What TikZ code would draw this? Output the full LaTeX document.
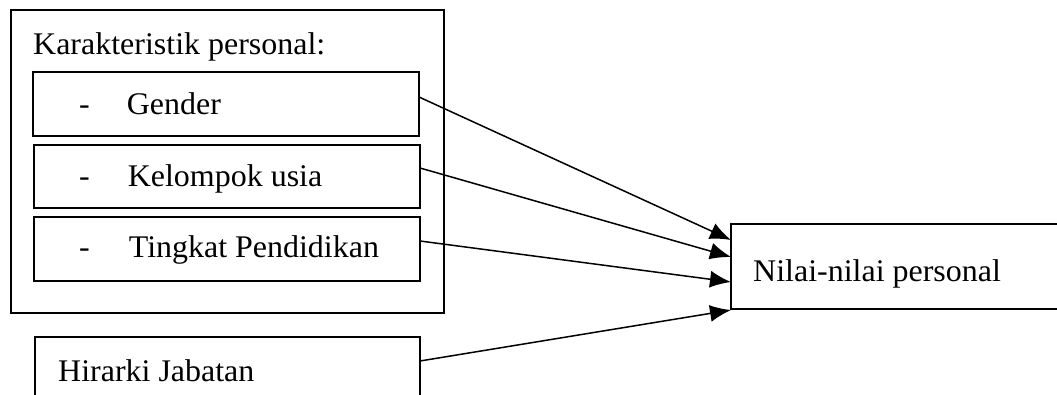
\documentclass[tikz,border=0pt]{standalone}
\usepackage{fontspec}
\setmainfont{Liberation Serif}[FakeStretch=1.015]
\usetikzlibrary{arrows.meta}
\begin{document}
\begin{tikzpicture}[x=1pt,y=-1pt,
  box/.style={draw,line width=1.7pt,outer sep=0pt,inner sep=0pt,anchor=north west},
  lbl/.style={anchor=base west,inner sep=0pt,font=\fontsize{31.5}{36}\selectfont},
  arr/.style={line width=1.5pt,-{Latex[length=21pt,width=17pt]}}]
\useasboundingbox (0,0) rectangle (1057,395);
\clip (0,0) rectangle (1057,395);
\node[box,minimum width=433pt,minimum height=303pt] (outer) at (11,10) {};
\node[box,minimum width=386pt,minimum height=64pt] (gender) at (33,72) {};
\node[box,minimum width=386pt,minimum height=63pt] (kelompok) at (34,145) {};
\node[box,minimum width=386pt,minimum height=64pt] (tingkat) at (34,217) {};
\node[box,minimum width=385pt,minimum height=90pt] (hirarki) at (35,337) {};
\node[box,minimum width=400pt,minimum height=85pt] (nilai) at (731,224) {};
\node[lbl] (tkarakter) at (33,54.5) {Karakteristik personal:};
\node[lbl] (tgender) at (79,114.5) {-\hspace{37pt}Gender};
\node[lbl] (tkelompok) at (79,186.5) {-\hspace{38pt}Kelompok usia};
\node[lbl] (ttingkat) at (79,258) {-\hspace{39pt}Tingkat Pendidikan};
\node[lbl] (thirarki) at (58,381) {Hirarki Jabatan};
\node[lbl] (tnilai) at (753,281) {Nilai-nilai personal};
\draw[arr] ([yshift=7pt]gender.east) -- ([yshift=26.5pt]nilai.west);
\draw[arr] ([yshift=8.5pt]kelompok.east) -- ([yshift=9.5pt]nilai.west);
\draw[arr] ([yshift=8pt]tingkat.east) -- ([yshift=-15.5pt]nilai.west);
\draw[arr] ([yshift=-24pt]hirarki.north east) -- ([yshift=-1pt]nilai.south west);
\end{tikzpicture}
\end{document}
